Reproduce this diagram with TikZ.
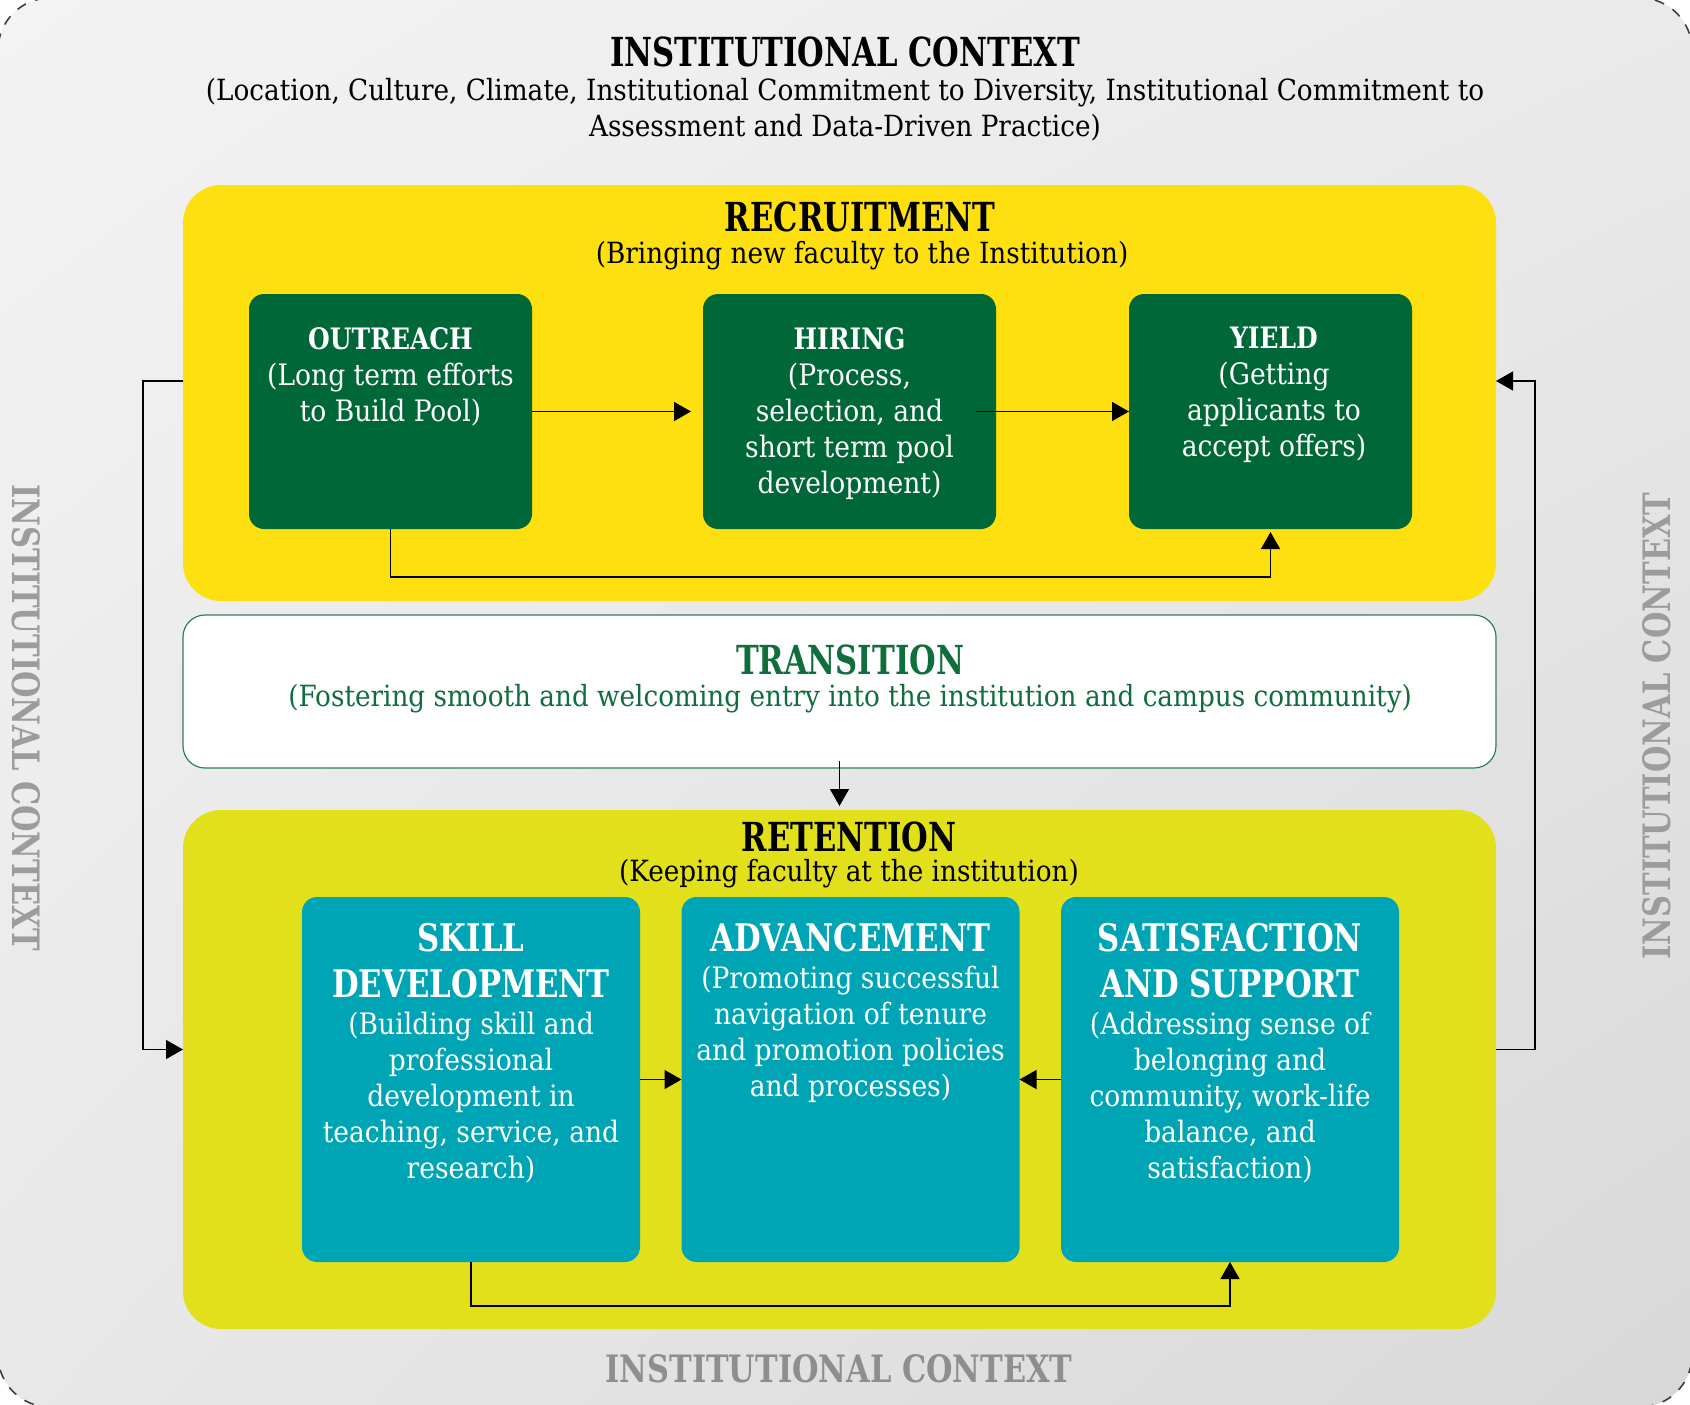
\documentclass[tikz,border=0pt]{standalone}
\usepackage{fontspec}
\usepackage{graphicx}
\setmainfont{DejaVu Serif Condensed}
\usetikzlibrary{arrows.meta,calc,shadings}
\definecolor{recY}{HTML}{FEDF10}
\definecolor{retY}{HTML}{E1E01A}
\definecolor{dgreen}{HTML}{006838}
\definecolor{myteal}{HTML}{00A5B5}
\definecolor{tgreen}{HTML}{0F6E3B}
\definecolor{tborder}{HTML}{2F8152}
\definecolor{sidegray}{HTML}{9C9C9C}
\definecolor{botgray}{HTML}{8E8E8E}
\definecolor{bgUL}{HTML}{F3F3F3}
\definecolor{bgUR}{HTML}{EAEAEA}
\definecolor{bgLL}{HTML}{E8E8E8}
\definecolor{bgLR}{HTML}{D8D8D8}
\newcommand\myfs[2]{\fontsize{#1pt}{#2pt}\selectfont}
\newcommand\narrow[2]{\scalebox{#1}[1]{#2}}
\newcommand\ictext{\resizebox{467pt}{28pt}{\bfseries INSTITUTIONAL CONTEXT}}
\tikzset{
  panel/.style={rounded corners=38pt, inner sep=0pt, outer sep=0pt, minimum width=1313pt},
  gbox/.style={fill=dgreen, rounded corners=15pt, inner sep=0pt, outer sep=0pt, minimum height=235pt},
  tbox/.style={fill=myteal, rounded corners=15pt, inner sep=0pt, outer sep=0pt, minimum width=338pt, minimum height=365pt},
  arr/.style={-{Triangle[length=17pt,width=19pt]}, line width=1.4pt, draw=black},
  wtext/.style={text=white, align=center, inner sep=0pt, anchor=north, font=\myfs{29.5}{36}},
  whead/.style={text=white, align=center, inner sep=0pt, anchor=north, font=\myfs{38}{46}\bfseries},
  bigtitle/.style={inner sep=0pt, font=\myfs{40}{46}\bfseries},
  subtitle/.style={inner sep=0pt, font=\myfs{29.2}{36}, align=center},
}
\begin{document}
\begin{tikzpicture}[x=1pt,y=-1pt]
\useasboundingbox (0,0) rectangle (1690,1405);
% background frame
\shade[rounded corners=52pt, upper left=bgUL, upper right=bgUR, lower left=bgLL, lower right=bgLR] (-2,-2) rectangle (1692,1407);
\draw[rounded corners=52pt, dash pattern=on 10pt off 10pt, line width=1.6pt, draw=black!75] (-2,-2) rectangle (1692,1407);

% top title
\node[bigtitle] (topT) at (845,52) {\narrow{0.85}{INSTITUTIONAL CONTEXT}};
\node[subtitle] (topS) at (845,110) {(Location, Culture, Climate, Institutional Commitment to Diversity, Institutional Commitment to\\Assessment and Data-Driven Practice)};

% side labels
\node[text=sidegray, inner sep=0pt, rotate=-90] (leftC) at (26,718) {\ictext};
\node[text=sidegray, inner sep=0pt, rotate=90] (rightC) at (1657,726) {\ictext};
\node[text=botgray, inner sep=0pt] (botC) at (839,1369) {\ictext};

% panels
\node[panel, fill=recY, minimum height=416pt] (rec) at (839.5,393) {};
\node[panel, fill=white, draw=tborder, line width=1.2pt, rounded corners=22pt, minimum height=153pt] (trans) at (839.5,691.5) {};
\node[panel, fill=retY, minimum height=519pt] (ret) at (839.5,1069.5) {};

% recruitment
\node[bigtitle] (recT) at (860,217) {\narrow{0.85}{RECRUITMENT}};
\node[subtitle] (recS) at (862,256) {(Bringing new faculty to the Institution)};
\node[gbox, minimum width=283pt] (outreach) at (390.5,411.5) {};
\node[gbox, minimum width=293pt] (hiring) at (849.5,411.5) {};
\node[gbox, minimum width=283pt] (yield) at (1270.5,411.5) {};
\node[wtext] (outreachT) at (390.5,327) {\narrow{0.94}{\textbf{OUTREACH}}\\(Long term efforts\\to Build Pool)};
\node[wtext] (hiringT) at (849.5,327) {\narrow{0.94}{\textbf{HIRING}}\\(Process,\\selection, and\\short term pool\\development)};
\node[wtext] (yieldT) at (1274,327) {\narrow{0.94}{\textbf{YIELD}}\\(Getting\\applicants to\\accept offers)};

% transition
\node[bigtitle, text=tgreen] (transT) at (850,660) {\narrow{0.85}{TRANSITION}};
\node[subtitle, text=tgreen] (transS) at (850,699) {(Fostering smooth and welcoming entry into the institution and campus community)};

% retention
\node[bigtitle] (retT) at (849,837) {\narrow{0.85}{RETENTION}};
\node[subtitle] (retS) at (849,874) {(Keeping faculty at the institution)};
\node[tbox] (skill) at (471,1079.5) {};
\node[tbox] (adv) at (850.5,1079.5) {};
\node[tbox] (sat) at (1230,1079.5) {};
\node[whead] (skillH) at (471,923) {\narrow{0.9}{SKILL}\\\narrow{0.9}{DEVELOPMENT}};
\node[wtext, yshift=-14pt] (skillB) at (skillH.south) {(Building skill and\\professional\\development in\\teaching, service, and\\research)};
\node[whead] (advH) at (850.5,923) {\narrow{0.9}{ADVANCEMENT}};
\node[wtext, yshift=-14pt] (advB) at (advH.south) {(Promoting successful\\navigation of tenure\\and promotion policies\\and processes)};
\node[whead] (satH) at (1230,923) {\narrow{0.9}{SATISFACTION}\\\narrow{0.9}{AND SUPPORT}};
\node[wtext, yshift=-14pt] (satB) at (satH.south) {(Addressing sense of\\belonging and\\community, work-life\\balance, and\\satisfaction)};

% connectors
\draw[arr, shorten >=12pt] (outreach.east) -- (hiring.west);
\draw[arr] ([xshift=-20pt]hiring.east) -- (yield.west);
\draw[arr, shorten >=3pt] (outreach.south) -- ++(0,48) -| (yield.south);
\draw[arr, shorten >=4pt] ([yshift=7pt]trans.south) -- (ret.north);
\draw[arr] (skill.east) -- (adv.west);
\draw[arr] (sat.west) -- (adv.east);
\draw[arr] (skill.south) -- ++(0,44) -| (sat.south);
\draw[arr] ([yshift=12pt]rec.west) -- ++(-40,0) |- ([yshift=20pt]ret.west);
\draw[arr] ([yshift=20pt]ret.east) -- ++(39,0) |- ([yshift=12pt]rec.east);
\end{tikzpicture}
\end{document}
